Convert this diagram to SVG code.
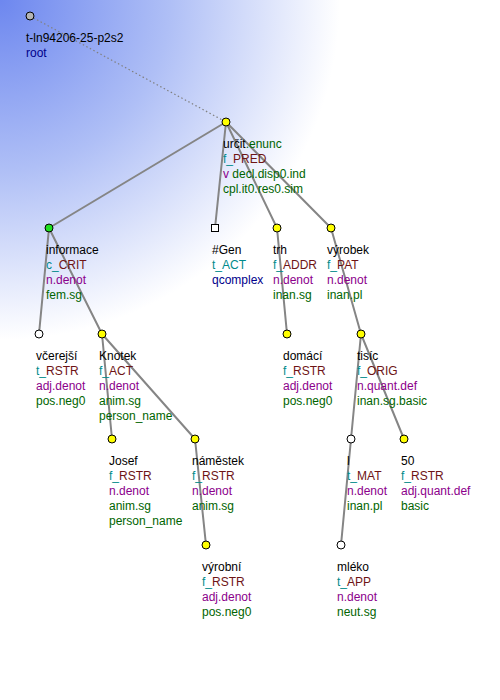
<svg xmlns="http://www.w3.org/2000/svg" width="500" height="700" viewBox="0 0 500 700">
<defs>
<radialGradient id="bg" gradientUnits="userSpaceOnUse" cx="0" cy="0" r="340">
<stop offset="0" stop-color="#6d87ef"/>
<stop offset="0.5" stop-color="#afbff6"/>
<stop offset="1" stop-color="#ffffff"/>
</radialGradient>
<style>
text{font-family:"Liberation Sans",Arial,sans-serif;font-size:12px;fill:#000}
.e{stroke:#858585;stroke-width:2;fill:none;stroke-linecap:round}
.d{stroke:#808080;stroke-width:1.2;fill:none;stroke-dasharray:1.5,2.5}
.n{stroke:#000;stroke-width:1}
.y{fill:#ffff00}.w{fill:#ffffff}.g{fill:#20e020}.r{fill:#b4b4b4}
.t{fill:#008b8b}.b{fill:#6e1414}.p{fill:#8b008b}.v{fill:#006400}.k{fill:#00008b}
</style>
</defs>
<rect x="0" y="0" width="500" height="700" fill="#ffffff"/>
<rect x="0" y="0" width="500" height="700" fill="url(#bg)"/>
<g id="connectors">
<line class="d" x1="30" y1="16" x2="226" y2="122"/>
<line class="e" x1="226" y1="122" x2="49" y2="228"/>
<line class="e" x1="226" y1="122" x2="215" y2="228"/>
<line class="e" x1="226" y1="122" x2="277" y2="228"/>
<line class="e" x1="226" y1="122" x2="331" y2="228"/>
<line class="e" x1="49" y1="228" x2="39" y2="334"/>
<line class="e" x1="49" y1="228" x2="102" y2="334"/>
<line class="e" x1="277" y1="228" x2="287" y2="334"/>
<line class="e" x1="331" y1="228" x2="361" y2="334"/>
<line class="e" x1="102" y1="334" x2="112" y2="439"/>
<line class="e" x1="102" y1="334" x2="195" y2="439"/>
<line class="e" x1="361" y1="334" x2="351" y2="439"/>
<line class="e" x1="361" y1="334" x2="404" y2="439"/>
<line class="e" x1="195" y1="439" x2="206" y2="545"/>
<line class="e" x1="351" y1="439" x2="341" y2="545"/>
</g>
<g id="root">
<circle class="n r" cx="30" cy="16" r="4"/>
<text x="26" y="42">t-ln94206-25-p2s2</text>
<text x="26" y="57" class="k">root</text>
</g>
<g id="urcit">
<circle class="n y" cx="226" cy="122" r="4"/>
<text x="223" y="148">určit<tspan class="v">.enunc</tspan></text>
<text x="223" y="163"><tspan class="t">f_</tspan><tspan class="b">PRED</tspan></text>
<text x="223" y="178"><tspan class="p">v</tspan><tspan class="v"> decl.disp0.ind</tspan></text>
<text x="223" y="193" class="v">cpl.it0.res0.sim</text>
</g>
<g id="informace">
<circle class="n g" cx="49" cy="228" r="4"/>
<text x="46" y="254">informace</text>
<text x="46" y="269"><tspan class="t">c_</tspan><tspan class="b">CRIT</tspan></text>
<text x="46" y="284" class="p">n.denot</text>
<text x="46" y="299" class="v">fem.sg</text>
</g>
<g id="gen">
<rect class="n w" x="211.5" y="224.5" width="7" height="7"/>
<text x="212" y="254">#Gen</text>
<text x="212" y="269" class="t">t_ACT</text>
<text x="212" y="284" class="k">qcomplex</text>
</g>
<g id="trh">
<circle class="n y" cx="277" cy="228" r="4"/>
<text x="273" y="254">trh</text>
<text x="273" y="269"><tspan class="t">f_</tspan><tspan class="b">ADDR</tspan></text>
<text x="273" y="284" class="p">n.denot</text>
<text x="273" y="299" class="v">inan.sg</text>
</g>
<g id="vyrobek">
<circle class="n y" cx="331" cy="228" r="4"/>
<text x="327" y="254">výrobek</text>
<text x="327" y="269"><tspan class="t">f_</tspan><tspan class="b">PAT</tspan></text>
<text x="327" y="284" class="p">n.denot</text>
<text x="327" y="299" class="v">inan.pl</text>
</g>
<g id="vcerejsi">
<circle class="n w" cx="39" cy="334" r="4"/>
<text x="36" y="360">včerejší</text>
<text x="36" y="375"><tspan class="t">t_</tspan><tspan class="b">RSTR</tspan></text>
<text x="36" y="390" class="p">adj.denot</text>
<text x="36" y="405" class="v">pos.neg0</text>
</g>
<g id="knotek">
<circle class="n y" cx="102" cy="334" r="4"/>
<text x="99" y="360">Knotek</text>
<text x="99" y="375"><tspan class="t">f_</tspan><tspan class="b">ACT</tspan></text>
<text x="99" y="390" class="p">n.denot</text>
<text x="99" y="405" class="v">anim.sg</text>
<text x="99" y="420" class="v">person_name</text>
</g>
<g id="domaci">
<circle class="n y" cx="287" cy="334" r="4"/>
<text x="283" y="360">domácí</text>
<text x="283" y="375"><tspan class="t">f_</tspan><tspan class="b">RSTR</tspan></text>
<text x="283" y="390" class="p">adj.denot</text>
<text x="283" y="405" class="v">pos.neg0</text>
</g>
<g id="tisic">
<circle class="n y" cx="361" cy="334" r="4"/>
<text x="357" y="360">tisíc</text>
<text x="357" y="375"><tspan class="t">f_</tspan><tspan class="b">ORIG</tspan></text>
<text x="357" y="390" class="p">n.quant.def</text>
<text x="357" y="405" class="v">inan.sg.basic</text>
</g>
<g id="josef">
<circle class="n y" cx="112" cy="439" r="4"/>
<text x="109" y="465">Josef</text>
<text x="109" y="480"><tspan class="t">f_</tspan><tspan class="b">RSTR</tspan></text>
<text x="109" y="495" class="p">n.denot</text>
<text x="109" y="510" class="v">anim.sg</text>
<text x="109" y="525" class="v">person_name</text>
</g>
<g id="namestek">
<circle class="n y" cx="195" cy="439" r="4"/>
<text x="192" y="465">náměstek</text>
<text x="192" y="480"><tspan class="t">f_</tspan><tspan class="b">RSTR</tspan></text>
<text x="192" y="495" class="p">n.denot</text>
<text x="192" y="510" class="v">anim.sg</text>
</g>
<g id="l">
<circle class="n w" cx="351" cy="439" r="4"/>
<text x="347" y="465">l</text>
<text x="347" y="480"><tspan class="t">t_</tspan><tspan class="b">MAT</tspan></text>
<text x="347" y="495" class="p">n.denot</text>
<text x="347" y="510" class="v">inan.pl</text>
</g>
<g id="n50">
<circle class="n y" cx="404" cy="439" r="4"/>
<text x="401" y="465">50</text>
<text x="401" y="480"><tspan class="t">f_</tspan><tspan class="b">RSTR</tspan></text>
<text x="401" y="495" class="p">adj.quant.def</text>
<text x="401" y="510" class="v">basic</text>
</g>
<g id="vyrobni">
<circle class="n y" cx="206" cy="545" r="4"/>
<text x="202" y="571">výrobní</text>
<text x="202" y="586"><tspan class="t">f_</tspan><tspan class="b">RSTR</tspan></text>
<text x="202" y="601" class="p">adj.denot</text>
<text x="202" y="616" class="v">pos.neg0</text>
</g>
<g id="mleko">
<circle class="n w" cx="341" cy="545" r="4"/>
<text x="337" y="571">mléko</text>
<text x="337" y="586"><tspan class="t">t_</tspan><tspan class="b">APP</tspan></text>
<text x="337" y="601" class="p">n.denot</text>
<text x="337" y="616" class="v">neut.sg</text>
</g>
</svg>
